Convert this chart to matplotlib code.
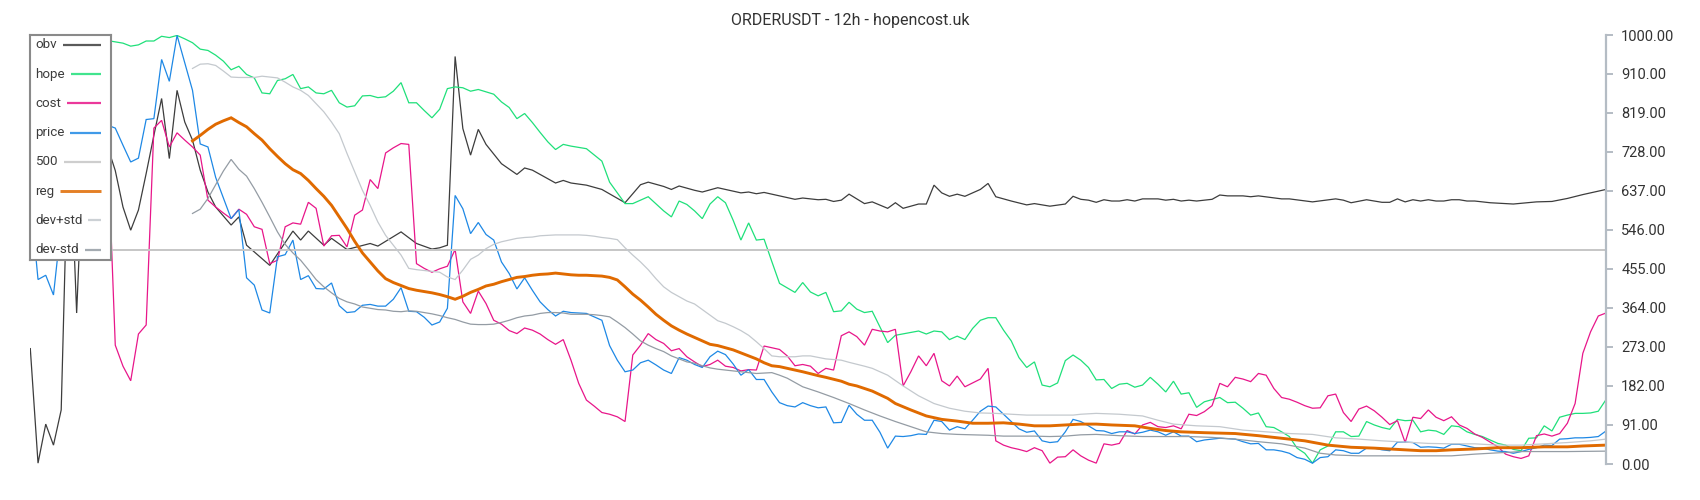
import matplotlib
matplotlib.use("Agg")
import matplotlib.pyplot as plt

plt.rcParams['font.family'] = ['Roboto', 'DejaVu Sans']

titre = "ORDERUSDT - 12h - hopencost.uk"

# valeurs relevées par bougie 12h (numéro de bougie, valeur)
obv = [(0, 269), (1, 2), (2, 93), (3, 44), (4, 126), (5, 815), (6, 352), (7, 780), (8, 720), (9, 760),
       (10, 740), (11, 684), (12, 599), (13, 545), (14, 592), (15, 677), (16, 766), (17, 852), (18, 712), (19, 871),
       (20, 797), (21, 755), (22, 685), (23, 634), (24, 599), (26, 557), (27, 576), (28, 510), (31, 463), (34, 543),
       (35, 522), (36, 543), (38, 510), (39, 526), (41, 500), (44, 514), (45, 508), (48, 541), (50, 514), (52, 501),
       (53, 504), (54, 510), (55, 950), (56, 782), (57, 720), (58, 780), (59, 745), (61, 700), (63, 675), (64, 690),
       (65, 685), (68, 655), (69, 661), (70, 655), (72, 650), (74, 640), (77, 609), (79, 651), (80, 657), (82, 647),
       (83, 640), (84, 648), (86, 638), (87, 634), (89, 644), (91, 636), (92, 632), (93, 634), (94, 630), (95, 633),
       (99, 617), (100, 620), (102, 616), (103, 617), (104, 612), (105, 615), (106, 629), (108, 607), (109, 611), (111, 596),
       (112, 609), (113, 596), (115, 606), (116, 606), (117, 650), (118, 632), (119, 624), (120, 629), (121, 624), (123, 640),
       (124, 654), (125, 623), (127, 613), (129, 604), (130, 607), (132, 601), (134, 606), (135, 624), (136, 617), (137, 615),
       (138, 610), (139, 616), (140, 613), (141, 613), (142, 616), (143, 613), (144, 618), (146, 618), (147, 615), (148, 617),
       (149, 613), (150, 615), (151, 613), (153, 617), (154, 627), (155, 625), (157, 625), (158, 623), (159, 625), (162, 618),
       (163, 618), (166, 611), (169, 618), (170, 615), (171, 609), (173, 616), (175, 610), (176, 610), (177, 618), (178, 611),
       (179, 616), (180, 613), (181, 616), (182, 613), (183, 613), (184, 616), (185, 616), (186, 613), (187, 613), (189, 609),
       (191, 607), (192, 606), (195, 611), (197, 612), (199, 619), (201, 628), (203, 636), (204, 640)]

hope = [(0, 990), (1, 994), (2, 988), (3, 992), (4, 998), (5, 995), (6, 990), (7, 986), (8, 990), (9, 993),
        (10, 987), (11, 984), (12, 981), (13, 974), (14, 977), (15, 986), (16, 986), (17, 997), (18, 994), (19, 999),
        (20, 991), (21, 982), (22, 967), (23, 964), (24, 953), (25, 939), (26, 919), (27, 927), (28, 908), (29, 900),
        (30, 865), (31, 863), (32, 894), (33, 898), (34, 908), (35, 875), (36, 879), (37, 865), (38, 863), (39, 871),
        (40, 842), (41, 832), (42, 835), (43, 858), (44, 859), (45, 854), (46, 856), (47, 869), (48, 889), (49, 842),
        (50, 842), (51, 824), (52, 807), (53, 827), (54, 875), (55, 879), (56, 877), (57, 869), (58, 873), (60, 862),
        (61, 844), (62, 831), (63, 805), (64, 817), (65, 796), (66, 773), (67, 751), (68, 733), (69, 745), (70, 741),
        (72, 735), (74, 706), (75, 657), (77, 607), (78, 607), (80, 623), (82, 590), (83, 576), (84, 613), (85, 605),
        (86, 590), (87, 572), (88, 606), (89, 623), (90, 609), (91, 568), (92, 522), (93, 562), (94, 522), (95, 524),
        (96, 472), (97, 421), (99, 400), (100, 423), (101, 401), (102, 392), (103, 400), (104, 355), (105, 357), (106, 377),
        (107, 361), (108, 353), (109, 356), (111, 283), (112, 300), (115, 310), (116, 303), (117, 310), (118, 308), (119, 290),
        (120, 298), (121, 290), (122, 316), (123, 335), (124, 341), (125, 341), (126, 312), (127, 287), (128, 248), (129, 225),
        (130, 238), (131, 184), (132, 180), (133, 189), (134, 241), (135, 254), (136, 242), (137, 225), (138, 196), (139, 197),
        (140, 176), (141, 186), (142, 188), (143, 179), (144, 184), (145, 202), (146, 186), (147, 168), (148, 193), (149, 163),
        (150, 166), (151, 132), (152, 145), (154, 155), (155, 143), (156, 144), (157, 130), (158, 114), (159, 119), (160, 87),
        (161, 85), (162, 75), (163, 64), (164, 37), (165, 25), (166, 2), (167, 33), (168, 42), (169, 75), (170, 75),
        (171, 64), (172, 65), (173, 99), (174, 91), (175, 85), (176, 81), (177, 104), (178, 101), (179, 102), (180, 75),
        (181, 79), (182, 77), (183, 69), (184, 89), (185, 87), (186, 75), (187, 69), (188, 64), (189, 56), (190, 48),
        (191, 44), (192, 34), (193, 31), (194, 60), (195, 61), (196, 89), (197, 77), (198, 109), (199, 114), (200, 118),
        (201, 118), (202, 119), (203, 123), (204, 150)]

cost = [(10, 757), (11, 277), (12, 228), (13, 194), (14, 303), (15, 324), (16, 783), (17, 801), (18, 739), (19, 772),
        (20, 755), (21, 739), (22, 720), (23, 615), (24, 599), (25, 585), (26, 572), (27, 594), (28, 582), (29, 553),
        (30, 547), (31, 467), (32, 475), (33, 553), (34, 562), (35, 559), (36, 610), (37, 596), (38, 508), (39, 532),
        (40, 533), (41, 506), (42, 580), (43, 592), (44, 663), (45, 642), (46, 725), (47, 737), (48, 747), (49, 745),
        (50, 467), (51, 456), (52, 447), (53, 455), (54, 461), (55, 500), (56, 378), (57, 351), (58, 403), (59, 374),
        (60, 335), (61, 326), (62, 311), (63, 304), (64, 317), (65, 312), (66, 303), (67, 290), (68, 279), (69, 290),
        (70, 242), (71, 188), (72, 149), (73, 135), (74, 120), (75, 116), (76, 110), (77, 99), (78, 254), (79, 277),
        (80, 304), (81, 290), (82, 281), (83, 264), (84, 269), (85, 250), (86, 238), (87, 227), (88, 232), (89, 242),
        (90, 228), (91, 225), (92, 217), (93, 220), (94, 219), (95, 275), (96, 271), (97, 267), (98, 252), (99, 229),
        (100, 232), (101, 228), (102, 211), (103, 223), (104, 219), (105, 299), (106, 308), (107, 297), (108, 277), (109, 314),
        (110, 310), (111, 308), (112, 314), (113, 182), (114, 215), (115, 252), (116, 229), (117, 258), (118, 194), (119, 182),
        (120, 205), (121, 180), (122, 189), (123, 198), (124, 223), (125, 54), (126, 44), (127, 38), (128, 34), (129, 29),
        (130, 38), (131, 31), (132, 2), (133, 16), (134, 17), (135, 33), (136, 19), (137, 9), (138, 2), (139, 47),
        (140, 44), (141, 48), (142, 78), (143, 70), (144, 91), (145, 97), (146, 87), (147, 85), (148, 89), (149, 82),
        (150, 116), (151, 113), (152, 122), (153, 136), (154, 188), (155, 180), (156, 202), (157, 198), (158, 192), (159, 211),
        (160, 207), (161, 176), (162, 155), (163, 151), (164, 144), (165, 136), (166, 130), (167, 131), (168, 159), (169, 163),
        (170, 120), (171, 99), (172, 128), (173, 135), (174, 124), (175, 109), (176, 92), (177, 101), (178, 50), (179, 109),
        (180, 106), (181, 126), (182, 109), (183, 101), (184, 110), (185, 91), (186, 83), (187, 70), (188, 62), (189, 51),
        (190, 40), (191, 23), (192, 17), (193, 13), (194, 19), (195, 66), (196, 70), (197, 65), (198, 71), (199, 95),
        (200, 141), (201, 258), (202, 308), (203, 345), (204, 352)]

price = [(0, 620), (1, 430), (2, 440), (3, 394), (4, 560), (5, 650), (6, 700), (7, 760), (8, 740), (9, 780),
         (10, 790), (11, 783), (12, 743), (13, 704), (14, 713), (15, 803), (16, 805), (17, 943), (18, 892), (19, 999),
         (20, 935), (21, 871), (22, 746), (23, 739), (24, 668), (26, 572), (27, 593), (28, 434), (29, 417), (30, 359),
         (31, 352), (32, 483), (33, 488), (34, 522), (35, 430), (36, 439), (37, 409), (38, 408), (39, 422), (40, 369),
         (41, 353), (42, 355), (43, 370), (44, 372), (45, 368), (46, 368), (47, 384), (48, 411), (49, 356), (50, 355),
         (51, 342), (52, 324), (53, 331), (54, 363), (55, 626), (56, 595), (57, 537), (58, 563), (59, 535), (60, 522),
         (61, 471), (62, 444), (63, 408), (64, 434), (65, 405), (66, 378), (67, 360), (68, 345), (69, 356), (70, 353),
         (72, 351), (73, 343), (74, 335), (75, 276), (76, 242), (77, 215), (78, 219), (79, 236), (80, 242), (81, 231),
         (82, 219), (83, 211), (84, 248), (85, 242), (86, 232), (87, 225), (88, 250), (89, 263), (90, 255), (91, 233),
         (92, 207), (93, 220), (94, 197), (95, 197), (96, 168), (97, 143), (98, 136), (99, 133), (100, 143), (101, 136),
         (102, 131), (103, 133), (104, 96), (105, 97), (106, 137), (107, 116), (108, 102), (109, 102), (110, 74), (111, 37),
         (112, 65), (113, 64), (114, 66), (115, 70), (116, 69), (117, 102), (118, 99), (119, 79), (120, 87), (121, 82),
         (122, 102), (123, 123), (124, 135), (125, 133), (126, 116), (127, 99), (128, 82), (129, 74), (130, 77), (131, 54),
         (132, 50), (133, 52), (134, 75), (135, 104), (136, 99), (137, 89), (138, 78), (139, 77), (140, 71), (141, 75),
         (142, 75), (143, 71), (144, 74), (145, 79), (146, 75), (147, 67), (148, 75), (149, 65), (150, 65), (151, 52),
         (152, 56), (154, 60), (156, 58), (157, 52), (158, 47), (159, 48), (160, 33), (161, 33), (162, 30), (163, 25),
         (164, 15), (165, 11), (166, 2), (167, 15), (168, 17), (169, 33), (170, 31), (171, 25), (172, 25), (173, 37),
         (174, 37), (175, 33), (176, 31), (177, 51), (178, 51), (179, 50), (180, 39), (181, 40), (182, 39), (183, 37),
         (184, 46), (185, 46), (186, 42), (187, 38), (188, 37), (189, 33), (190, 30), (191, 29), (192, 25), (193, 29),
         (194, 34), (195, 38), (196, 44), (197, 43), (198, 58), (199, 59), (200, 61), (201, 61), (202, 62), (203, 64),
         (204, 77)]

niveau_500 = 500

reg = [(21, 753), (22, 766), (23, 780), (24, 792), (25, 800), (26, 807), (27, 796), (28, 786), (29, 770), (30, 755),
       (31, 735), (32, 717), (33, 700), (34, 686), (35, 677), (36, 661), (37, 642), (38, 624), (39, 603), (40, 576),
       (41, 549), (42, 519), (43, 492), (44, 471), (45, 450), (46, 432), (47, 423), (48, 416), (49, 409), (50, 405),
       (51, 402), (52, 399), (53, 395), (54, 390), (55, 384), (56, 391), (57, 400), (58, 407), (59, 415), (60, 419),
       (61, 425), (62, 430), (63, 435), (64, 437), (65, 440), (66, 442), (67, 443), (68, 445), (69, 443), (70, 441),
       (71, 440), (72, 440), (73, 439), (74, 438), (75, 435), (76, 429), (77, 413), (78, 396), (79, 382), (80, 366),
       (81, 349), (82, 335), (83, 322), (84, 312), (85, 303), (86, 295), (87, 287), (88, 279), (89, 276), (90, 271),
       (91, 266), (92, 259), (93, 252), (94, 245), (95, 236), (96, 229), (97, 227), (98, 223), (100, 215), (102, 206),
       (103, 202), (105, 193), (106, 186), (107, 182), (109, 170), (111, 153), (112, 141), (114, 126), (116, 112), (118, 104),
       (120, 100), (122, 95), (124, 95), (126, 96), (128, 93), (130, 89), (132, 89), (134, 91), (136, 93), (138, 93),
       (140, 91), (143, 89), (145, 83), (147, 78), (149, 75), (152, 73), (156, 71), (159, 66), (162, 60), (165, 54),
       (168, 44), (171, 39), (174, 37), (177, 34), (180, 31), (182, 31), (184, 33), (187, 35), (190, 38), (193, 38),
       (196, 40), (199, 40), (201, 42), (204, 44)]

dev_plus = [(21, 922), (22, 932), (23, 933), (24, 929), (25, 916), (26, 902), (27, 901), (28, 901), (29, 901), (30, 904),
            (31, 902), (32, 900), (33, 890), (34, 879), (35, 871), (36, 859), (37, 840), (38, 821), (39, 797), (40, 770),
            (41, 724), (42, 681), (43, 638), (44, 603), (45, 564), (46, 533), (47, 510), (48, 487), (49, 456), (50, 453),
            (52, 449), (53, 447), (54, 436), (55, 430), (56, 452), (57, 477), (58, 487), (59, 502), (60, 512), (61, 518),
            (62, 522), (63, 526), (64, 528), (65, 529), (66, 532), (67, 533), (68, 534), (69, 534), (70, 534), (71, 534),
            (72, 533), (73, 531), (74, 528), (75, 526), (76, 523), (77, 504), (78, 487), (79, 471), (80, 453), (81, 432),
            (82, 413), (83, 400), (84, 390), (85, 380), (86, 373), (87, 360), (88, 347), (89, 334), (90, 328), (91, 320),
            (92, 311), (93, 300), (94, 285), (95, 269), (96, 252), (97, 250), (99, 250), (100, 252), (101, 252), (103, 245),
            (105, 242), (106, 237), (108, 228), (109, 223), (111, 207), (113, 182), (115, 159), (117, 141), (119, 130), (121, 123),
            (123, 119), (125, 118), (127, 116), (129, 114), (131, 114), (133, 114), (135, 114), (136, 116), (138, 118), (141, 116),
            (144, 112), (146, 102), (148, 93), (151, 89), (154, 87), (157, 79), (160, 75), (163, 71), (166, 69), (169, 61),
            (172, 58), (175, 54), (178, 51), (181, 48), (184, 47), (187, 47), (190, 44), (193, 44), (196, 47), (199, 50),
            (202, 54), (204, 58)]

dev_minus = [(21, 584), (22, 594), (23, 619), (24, 651), (25, 683), (26, 710), (27, 687), (28, 671), (29, 642), (30, 610),
             (31, 576), (32, 541), (33, 512), (34, 492), (35, 475), (36, 453), (37, 430), (38, 413), (39, 399), (40, 386),
             (41, 378), (42, 373), (43, 366), (44, 363), (45, 360), (46, 359), (47, 356), (48, 355), (49, 357), (50, 356),
             (52, 350), (53, 346), (54, 341), (55, 337), (56, 331), (57, 326), (58, 325), (59, 325), (60, 326), (61, 330),
             (62, 335), (63, 341), (64, 345), (65, 347), (66, 351), (67, 353), (68, 353), (69, 352), (70, 349), (71, 349),
             (72, 349), (73, 348), (74, 346), (75, 343), (76, 331), (77, 318), (78, 303), (79, 287), (80, 277), (81, 269),
             (82, 262), (83, 252), (84, 245), (85, 238), (86, 235), (87, 229), (88, 224), (89, 221), (90, 219), (91, 217),
             (92, 215), (93, 213), (94, 211), (96, 213), (97, 207), (98, 200), (100, 180), (102, 168), (104, 155), (106, 141),
             (108, 126), (110, 112), (112, 99), (114, 87), (115, 81), (116, 75), (118, 71), (120, 69), (122, 68), (124, 67),
             (126, 65), (130, 65), (132, 64), (134, 65), (136, 68), (138, 69), (141, 66), (144, 64), (150, 64), (153, 62),
             (156, 58), (159, 52), (162, 47), (165, 37), (167, 25), (169, 21), (172, 19), (184, 19), (187, 23), (190, 26),
             (193, 29), (199, 29), (204, 30)]

nb_bougies = 205
graduations = [0, 91, 182, 273, 364, 455, 546, 637, 728, 819, 910, 1000]

# (nom, données, couleur, épaisseur)
series = [
    ("obv", obv, "#3d3d3d", 0.9),
    ("hope", hope, "#1fe07a", 0.9),
    ("cost", cost, "#e8168a", 0.9),
    ("price", price, "#1e88e5", 0.9),
    ("500", None, "#c6c6c6", 1.4),
    ("reg", reg, "#e06a00", 2.1),
    ("dev+std", dev_plus, "#c4c9ce", 0.9),
    ("dev-std", dev_minus, "#949ca4", 0.9),
]

W, H = 1700, 500
fig = plt.figure(figsize=(W / 100, H / 100), dpi=100)
ax = fig.add_axes([30.3 / W, 36 / H, 1575.7 / W, 429 / H])

for nom, pts, couleur, lw in series:
    if pts is None:
        ax.axhline(niveau_500, color=couleur, lw=lw)
    else:
        x, y = zip(*pts)
        ax.plot(x, y, color=couleur, lw=lw, solid_joinstyle='miter')

ax.set_xlim(0, nb_bougies - 1)
ax.set_ylim(0, 1000)
for s in ("top", "left", "bottom"):
    ax.spines[s].set_visible(False)
ax.spines["right"].set_color("#b4bcc4")
ax.spines["right"].set_linewidth(1.6)
ax.set_xticks([])
ax.yaxis.tick_right()
ax.set_yticks(graduations)
ax.set_yticklabels(["%.2f" % g for g in graduations])
ax.tick_params(axis="y", length=5, width=1.4, color="#b4bcc4", labelcolor="#333333",
               labelsize=10.5, pad=6)

fig.text(0.5, 1 - 21 / H, titre, ha="center", va="center", fontsize=11.5, color="#333333")

# légende dessinée à la main (cadre en haut à gauche)
lx0, ly0, lw_, lh_ = 30, 34.7, 81, 225.3
lax = fig.add_axes([lx0 / W, 1 - (ly0 + lh_) / H, lw_ / W, lh_ / H])
lax.set_zorder(10)
lax.set_facecolor("white")
lax.set_xlim(0, lw_)
lax.set_ylim(lh_, 0)
lax.set_xticks([])
lax.set_yticks([])
for s in lax.spines.values():
    s.set_color("#8a8a8a")
    s.set_linewidth(1.5)

fig.canvas.draw()
renderer = fig.canvas.get_renderer()
x_cadre = lax.get_window_extent(renderer=renderer).x0
pas = (lh_ - 20.6) / (len(series) - 1)
for k, (nom, pts, couleur, lw) in enumerate(series):
    yk = 10.3 + k * pas
    t = lax.text(5, yk, nom, ha="left", va="center", fontsize=9.6, color="#3c3c3c")
    fin_txt = t.get_window_extent(renderer=renderer).x1 - x_cadre
    lax.plot([fin_txt + 6, 70.7], [yk, yk], color=couleur,
             lw=max(lw, 1.6), alpha=0.85, solid_capstyle="butt")

fig.savefig("out.png", dpi=100)
